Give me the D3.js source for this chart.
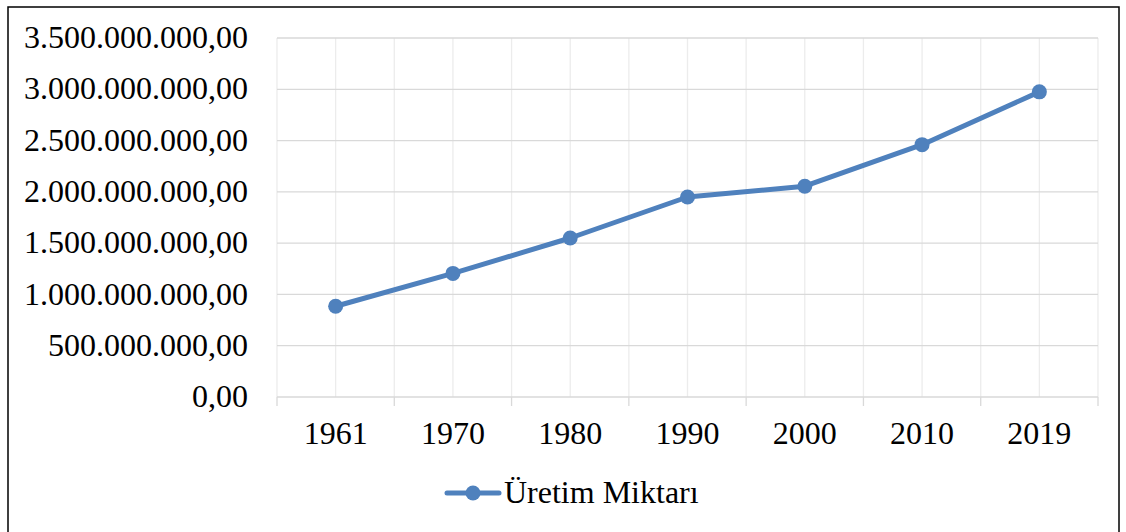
<!DOCTYPE html>
<html>
<head>
<meta charset="utf-8">
<script src="https://cdn.jsdelivr.net/npm/d3@7"></script>
<style>
  body { margin: 0; background: #fff; }
  svg { display: block; }
  text { font-family: "Liberation Serif", "Times New Roman", serif; fill: #000; }
</style>
</head>
<body>
<div id="chart"></div>
<script>
// data
var years = ['1961', '1970', '1980', '1990', '2000', '2010', '2019'];
var production = [885000000, 1205000000, 1550000000, 1950000000, 2055000000, 2460000000, 2975000000];
var yTicks = [0, 500000000, 1000000000, 1500000000, 2000000000, 2500000000, 3000000000, 3500000000];
var seriesName = 'Üretim Miktarı';

var width = 1126, height = 532;
var plot = { left: 277, right: 1098, top: 38, bottom: 397 };
var blue = '#4f81bd';
var fontSize = 32;

var svg = d3.select('#chart').append('svg')
  .attr('width', width)
  .attr('height', height);

// outer frame
svg.append('rect')
  .attr('x', 8).attr('y', 7)
  .attr('width', 1111).attr('height', 540)
  .attr('fill', 'none')
  .attr('stroke', '#000')
  .attr('stroke-width', 1.5);

var x = d3.scaleBand()
  .domain(years)
  .range([plot.left, plot.right]);

var y = d3.scaleLinear()
  .domain([0, 3500000000])
  .range([plot.bottom, plot.top]);

function trFormat(v) {
  var s = d3.format(',.2f')(v);
  return s.replace(/,/g, '#').replace('.', ',').replace(/#/g, '.');
}

// vertical grid lines: category boundaries and centers
var vLines = [];
years.forEach(function (d) {
  vLines.push(x(d));
  vLines.push(x(d) + x.bandwidth() / 2);
});
vLines.push(plot.right);

svg.append('g').selectAll('line').data(vLines)
  .join('line')
  .attr('x1', function (d) { return d; })
  .attr('x2', function (d) { return d; })
  .attr('y1', plot.top)
  .attr('y2', plot.bottom)
  .attr('stroke', '#ececec')
  .attr('stroke-width', 1.3);

// horizontal grid
svg.append('g').selectAll('line').data(yTicks.slice(1))
  .join('line')
  .attr('x1', plot.left)
  .attr('x2', plot.right)
  .attr('y1', function (d) { return y(d); })
  .attr('y2', function (d) { return y(d); })
  .attr('stroke', '#d9d9d9')
  .attr('stroke-width', 1.3);

// y axis labels
var yAxis = d3.axisLeft(y)
  .tickValues(yTicks)
  .tickFormat(trFormat)
  .tickSize(0)
  .tickPadding(29);

var yg = svg.append('g')
  .attr('transform', 'translate(' + plot.left + ',0)')
  .call(yAxis);
yg.select('.domain').remove();
yg.attr('font-size', fontSize).attr('font-family', '"Liberation Serif", serif');
yg.selectAll('text')
  .attr('fill', '#000')
  .attr('dy', '0.3em');

// x axis
var xg = svg.append('g')
  .attr('transform', 'translate(0,' + plot.bottom + ')');

xg.append('line')
  .attr('x1', plot.left).attr('x2', plot.right)
  .attr('y1', 0).attr('y2', 0)
  .attr('stroke', '#d9d9d9')
  .attr('stroke-width', 1.3);

var xTickPos = years.map(function (d) { return x(d); }).concat([plot.right]);
xg.selectAll('.tick').data(xTickPos)
  .join('line')
  .attr('class', 'tick')
  .attr('x1', function (d) { return d; })
  .attr('x2', function (d) { return d; })
  .attr('y1', 0).attr('y2', 9)
  .attr('stroke', '#d9d9d9')
  .attr('stroke-width', 1.3);

xg.selectAll('.xlabel').data(years)
  .join('text')
  .attr('class', 'xlabel')
  .attr('x', function (d) { return x(d) + x.bandwidth() / 2; })
  .attr('y', 47)
  .attr('text-anchor', 'middle')
  .attr('font-size', fontSize)
  .text(function (d) { return d; });

// series line
var line = d3.line()
  .x(function (d, i) { return x(years[i]) + x.bandwidth() / 2; })
  .y(function (d) { return y(d); });

svg.append('path')
  .datum(production)
  .attr('d', line)
  .attr('fill', 'none')
  .attr('stroke', blue)
  .attr('stroke-width', 5)
  .attr('stroke-linejoin', 'round')
  .attr('stroke-linecap', 'round');

svg.append('g').selectAll('circle').data(production)
  .join('circle')
  .attr('cx', function (d, i) { return x(years[i]) + x.bandwidth() / 2; })
  .attr('cy', function (d) { return y(d); })
  .attr('r', 7.5)
  .attr('fill', blue);

// legend
var legend = svg.append('g').attr('transform', 'translate(0,493)');
legend.append('line')
  .attr('x1', 447).attr('x2', 499)
  .attr('y1', 0).attr('y2', 0)
  .attr('stroke', blue)
  .attr('stroke-width', 5)
  .attr('stroke-linecap', 'round');
legend.append('circle')
  .attr('cx', 473).attr('cy', 0)
  .attr('r', 7.5)
  .attr('fill', blue);
legend.append('text')
  .attr('x', 504)
  .attr('y', 10)
  .attr('font-size', fontSize)
  .text(seriesName);
</script>
</body>
</html>
